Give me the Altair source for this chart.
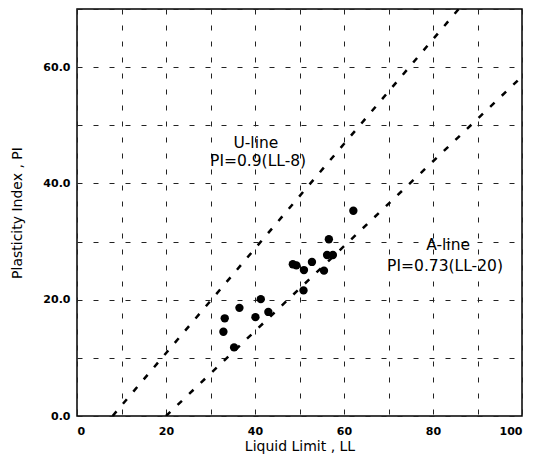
import altair as alt
import pandas as pd

# Measured soil samples: liquid limit (LL) and plasticity index (PI)
liquid_limit = [62.1, 56.6, 56.2, 57.5, 52.8, 48.5, 49.3, 51.0, 55.5, 50.9,
                41.3, 36.5, 43.0, 40.1, 33.2, 32.9, 35.3]
plasticity_index = [35.3, 30.4, 27.7, 27.7, 26.5, 26.1, 25.9, 25.1, 25.0, 21.6,
                    20.1, 18.6, 17.9, 17.0, 16.8, 14.5, 11.8]

# Reference lines of the plasticity chart (end points)
u_line_ll = [8, 8 + 70 / 0.9]
u_line_pi = [0.9 * (v - 8) for v in u_line_ll]
a_line_ll = [20, 100]
a_line_pi = [0.73 * (v - 20) for v in a_line_ll]

# Line labels
label_text = ["U-line", "PI=0.9(LL-8)", "A-line", "PI=0.73(LL-20)"]
label_ll = [40.2, 40.7, 83.4, 82.7]
label_pi = [47.0, 43.9, 29.4, 25.8]

samples = pd.DataFrame({"LL": liquid_limit, "PI": plasticity_index})
lines = pd.DataFrame({
    "LL": u_line_ll + a_line_ll,
    "PI": u_line_pi + a_line_pi,
    "line": ["U", "U", "A", "A"],
})
labels = pd.DataFrame({"LL": label_ll, "PI": label_pi, "text": label_text})

x_scale = alt.Scale(domain=[0, 100], nice=False, zero=False)
y_scale = alt.Scale(domain=[0, 70], nice=False, zero=False)

grid_style = dict(
    grid=True, gridColor="#222222", gridDash=[5, 11], gridWidth=1,
    ticks=False, domain=False,
    labelFont="DejaVu Sans", labelFontWeight="bold", labelFontSize=11,
    labelColor="black",
    titleFont="DejaVu Sans", titleFontWeight="normal", titleFontSize=14,
    titleColor="black",
)

x_enc = alt.X(
    "LL:Q", scale=x_scale,
    axis=alt.Axis(
        title="Liquid Limit , LL",
        values=list(range(0, 101, 10)),
        labelExpr="datum.value % 20 == 0 ? datum.label : ''",
        labelPadding=9, titlePadding=3,
        **grid_style,
    ),
)
y_enc = alt.Y(
    "PI:Q", scale=y_scale,
    axis=alt.Axis(
        title="Plasticity Index , PI",
        values=list(range(0, 71, 10)),
        labelExpr="datum.value % 20 == 0 ? format(datum.value, '.1f') : ''",
        labelPadding=7, titlePadding=18,
        **grid_style,
    ),
)

ref_lines = alt.Chart(lines).mark_line(
    color="black", strokeWidth=2.5, strokeDash=[6, 10], clip=True
).encode(x=x_enc, y=y_enc, detail="line:N")

points = alt.Chart(samples).mark_circle(
    color="black", opacity=1, size=70
).encode(x="LL:Q", y="PI:Q")

texts = alt.Chart(labels).mark_text(
    font="DejaVu Sans", fontSize=15.5, color="black", align="center",
    baseline="middle"
).encode(x="LL:Q", y="PI:Q", text="text:N")

chart = (
    alt.layer(ref_lines, points, texts)
    .properties(
        width=445, height=407,
        autosize=alt.AutoSizeParams(type="none"),
        padding={"left": 77, "top": 9, "right": 12, "bottom": 39},
        background="white",
    )
    .configure_view(stroke="black", strokeWidth=1.5)
)

chart.save("out.html", embed_options={"renderer": "svg", "actions": False})
